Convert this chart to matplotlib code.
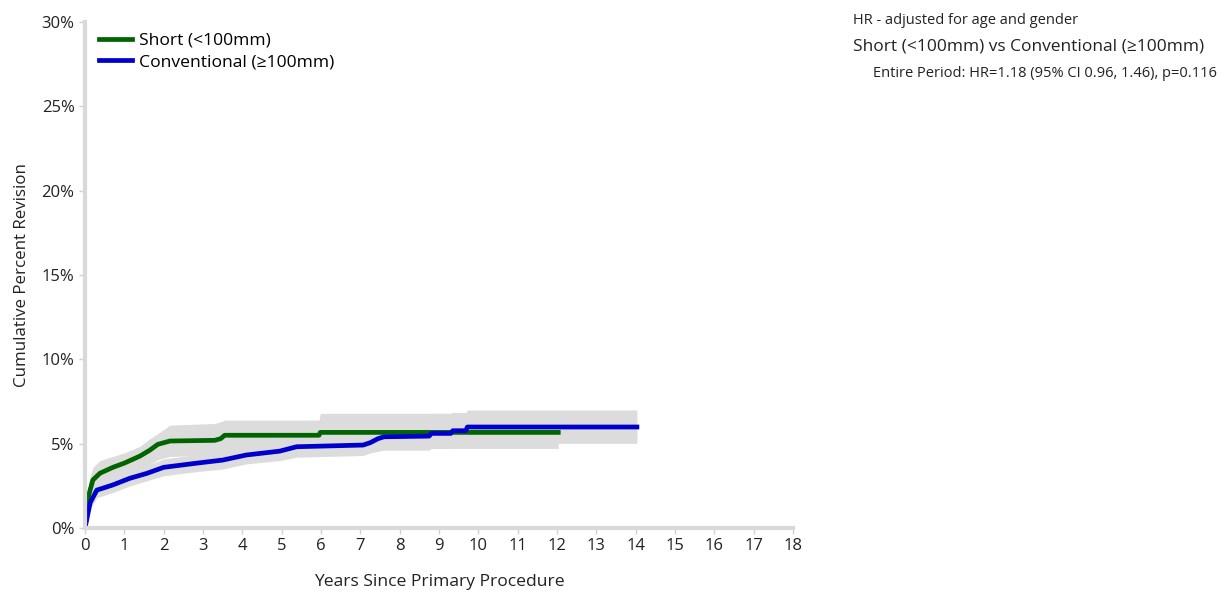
import matplotlib.pyplot as plt
import numpy as np

plt.rcParams['font.family'] = ['Open Sans', 'DejaVu Sans']

# Short (<100mm) - cumulative percent revision
short_t = [0, 0.04, 0.1, 0.2, 0.38, 0.71, 1.0, 1.4, 1.65, 1.85, 2.16, 3.3, 3.45, 3.55, 5.95, 5.98, 12.03]
short_y = [0, 0.9, 2.0, 2.85, 3.25, 3.6, 3.85, 4.27, 4.62, 4.96, 5.16, 5.2, 5.3, 5.5, 5.5, 5.67, 5.67]
short_lo = [0, 0.4, 1.3, 2.1, 2.45, 2.8, 3.05, 3.45, 3.75, 4.05, 4.25, 4.3, 4.4, 4.55, 4.55, 4.72, 4.72]
short_hi = [0, 1.5, 2.8, 3.6, 4.0, 4.25, 4.45, 4.85, 5.3, 5.6, 6.1, 6.2, 6.3, 6.4, 6.4, 6.8, 6.8]

# Conventional (>=100mm)
conv_t = [0, 0.13, 0.3, 0.7, 1.14, 1.57, 2.0, 2.85, 3.5, 4.1, 4.95, 5.38, 7.07, 7.25, 7.45, 7.6,
          8.75, 8.8, 9.3, 9.35, 9.68, 9.72, 14.03]
conv_y = [0, 1.5, 2.25, 2.55, 2.95, 3.24, 3.6, 3.85, 4.03, 4.33, 4.56, 4.82, 4.92, 5.06, 5.3, 5.41,
          5.45, 5.61, 5.61, 5.77, 5.77, 5.99, 5.99]
conv_lo = [0, 1.1, 1.8, 2.1, 2.5, 2.8, 3.1, 3.35, 3.5, 3.8, 4.0, 4.2, 4.3, 4.45, 4.55, 4.62,
           4.62, 4.72, 4.72, 4.85, 4.85, 5.02, 5.02]
conv_hi = [0, 1.9, 2.7, 3.0, 3.4, 3.7, 4.1, 4.35, 4.55, 4.85, 5.1, 5.4, 5.55, 5.75, 6.3, 6.5,
           6.6, 6.8, 6.8, 6.85, 6.85, 7.0, 7.0]

xticks = list(range(0, 19))
yticks = [0, 5, 10, 15, 20, 25, 30]

fig = plt.figure(figsize=(12.25, 5.92), dpi=100)
ax = fig.add_axes([0.0694, 0.108, 0.578, 0.855])

band = '#dcdcdc'
ax.fill_between(short_t, short_lo, short_hi, color=band, lw=0)
ax.fill_between(conv_t, conv_lo, conv_hi, color=band, lw=0)
ax.plot(short_t, short_y, color='#006400', lw=3.4, label='Short (<100mm)')
ax.plot(conv_t, conv_y, color='#0000cc', lw=3.4, label='Conventional (≥100mm)')

ax.set_xlim(0, 18)
ax.set_ylim(0, 30)
ax.set_xticks(xticks)
ax.set_yticks(yticks)
ax.set_yticklabels([f'{v}%' for v in yticks])
ax.tick_params(labelsize=12, colors='#d0d0d0', labelcolor='#222222', length=4, width=1)
for s in ['top', 'right']:
    ax.spines[s].set_visible(False)
for s in ['left', 'bottom']:
    ax.spines[s].set_color('#d9d9d9')
    ax.spines[s].set_linewidth(3)
ax.set_xlabel('Years Since Primary Procedure', fontsize=12.6, color='#222222', labelpad=14)
ax.set_ylabel('Cumulative Percent Revision', fontsize=12.2, color='#222222', labelpad=8)

ax.legend(loc='upper left', frameon=False, fontsize=12.6, handlelength=1.9, handletextpad=0.4,
          borderaxespad=0.2, labelspacing=0.3, bbox_to_anchor=(0.005, 1.0))

fig.text(0.696, 0.965, 'HR - adjusted for age and gender', fontsize=10.5, color='#222222', va='center')
fig.text(0.696, 0.922, 'Short (<100mm) vs Conventional (≥100mm)', fontsize=12.5, color='#222222', va='center')
fig.text(0.713, 0.876, 'Entire Period: HR=1.18 (95% CI 0.96, 1.46), p=0.116', fontsize=10.5, color='#222222', va='center')

fig.savefig('out.png', dpi=100)
